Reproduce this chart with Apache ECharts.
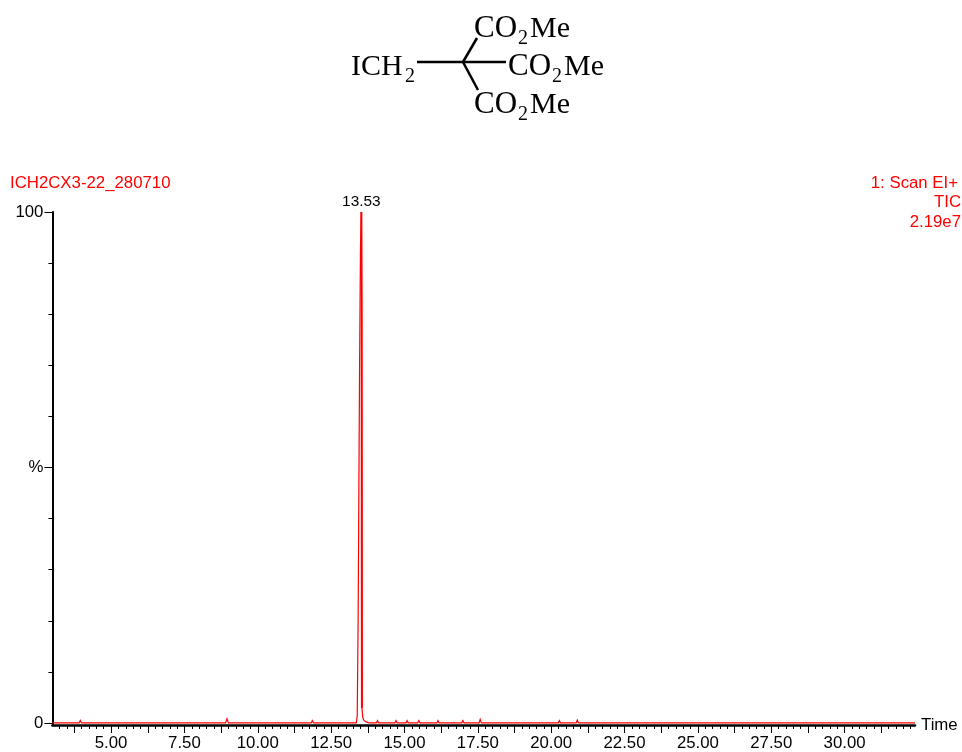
<!DOCTYPE html>
<html><head><meta charset="utf-8">
<script src="https://cdn.jsdelivr.net/npm/echarts@6/dist/echarts.min.js"></script>
<style>html,body{margin:0;padding:0;background:#fff}#c{width:962px;height:752px}</style></head>
<body><div id="c"></div>
<script>
const times = [3.0,3.91,3.95,3.99,8.9,8.95,9.0,11.82,11.86,11.9,13.36,13.38,13.39,13.42,13.44,13.47,13.5,13.53,13.54,13.55,13.58,13.62,13.7,13.8,14.04,14.08,14.12,14.67,14.71,14.75,15.05,15.09,15.13,15.45,15.49,15.53,16.1,16.14,16.18,16.95,16.99,17.03,17.54,17.58,17.62,20.24,20.28,20.32,20.85,20.89,20.93,32.4];
const intensities = [0,0,0.5,0,0,0.8,0,0,0.45,0,0,0.3,1.5,20,40,70,93,100,80,3,1,0.5,0.2,0,0,0.45,0,0,0.45,0,0,0.45,0,0,0.45,0,0,0.45,0,0,0.45,0,0,0.7,0,0,0.45,0,0,0.55,0,0];
const coreTimes = [13.53,13.54,13.55];
const coreIntensities = [100,80,3];
const peakTime = 13.53, peakValue = 100, peakLabel = '13.53';
const xMajorTicks = [3.75,5,6.25,7.5,8.75,10,11.25,12.5,13.75,15,16.25,17.5,18.75,20,21.25,22.5,23.75,25,26.25,27.5,28.75,30,31.25];
const xMinorTicks = [3.25,3.5,4,4.25,4.5,4.75,5.25,5.5,5.75,6,6.5,6.75,7,7.25,7.75,8,8.25,8.5,9,9.25,9.5,9.75,10.25,10.5,10.75,11,11.5,11.75,12,12.25,12.75,13,13.25,13.5,14,14.25,14.5,14.75,15.25,15.5,15.75,16,16.5,16.75,17,17.25,17.75,18,18.25,18.5,19,19.25,19.5,19.75,20.25,20.5,20.75,21,21.5,21.75,22,22.25,22.75,23,23.25,23.5,24,24.25,24.5,24.75,25.25,25.5,25.75,26,26.5,26.75,27,27.25,27.75,28,28.25,28.5,29,29.25,29.5,29.75,30.25,30.5,30.75,31,31.5,31.75,32,32.25];
const xLabels = [5,7.5,10,12.5,15,17.5,20,22.5,25,27.5,30];
const yMajorTicks = [0,50,100];
const yMinorTicks = [10,20,30,40,60,70,80,90];
const yLabelNames = {0:'0',50:'%',100:'100'};

const SANS = '"Liberation Sans", Arial, sans-serif', SERIF = '"Liberation Serif", "Times New Roman", serif';
const RED = '#ff0000', INK = '#000000';
function txt(x,y,text,size){const s=size||30;return {type:'text',x:x,y:y-Math.round(s*0.78),silent:true,style:{text:text,fill:INK,font:s+'px '+SERIF,align:'left',verticalAlign:'top'}};}
function bond(x1,y1,x2,y2){return {type:'line',silent:true,shape:{x1,y1,x2,y2},style:{stroke:INK,lineWidth:2.5}};}
function ester(x,y){return [txt(x,y,'CO',31),txt(x+44,y+8,'2',20),txt(x+56,y,'Me')];}
function head(x,y,text,align){return {type:'text',x:x,y:y,silent:true,style:{text:text,fill:RED,font:'16.8px '+SANS,align:align,verticalAlign:'middle'}};}

const chart = echarts.init(document.getElementById('c'),null,{renderer:'canvas'});
chart.setOption({
  animation:false,
  grid:{left:52.4,right:47,top:212,bottom:27,containLabel:false},
  xAxis:[
    {type:'value',position:'bottom',min:3,max:32.4,name:'Time',nameLocation:'end',nameGap:6,
     nameTextStyle:{color:INK,fontFamily:SANS,fontSize:16.8},
     axisLine:{show:true,onZero:false,lineStyle:{color:INK,width:2.5}},
     axisTick:{show:true,length:8,lineStyle:{color:INK,width:1},customValues:xMajorTicks},
     axisLabel:{show:true,color:INK,fontFamily:SANS,fontSize:16.8,margin:10,customValues:xLabels,formatter:v=>v.toFixed(2),hideOverlap:false},
     splitLine:{show:false}},
    {type:'value',position:'bottom',min:3,max:32.4,
     axisLine:{show:false,onZero:false},
     axisTick:{show:true,length:4,lineStyle:{color:INK,width:1},customValues:xMinorTicks},
     axisLabel:{show:false},splitLine:{show:false}}
  ],
  yAxis:[
    {type:'value',position:'left',min:-0.4,max:100,
     axisLine:{show:true,onZero:false,lineStyle:{color:INK,width:2}},
     axisTick:{show:true,length:8,lineStyle:{color:INK,width:1},customValues:yMajorTicks},
     axisLabel:{show:true,color:INK,fontFamily:SANS,fontSize:16.8,margin:9,customValues:yMajorTicks,formatter:v=>yLabelNames[v]},
     splitLine:{show:false}},
    {type:'value',position:'left',min:-0.4,max:100,
     axisLine:{show:false,onZero:false},
     axisTick:{show:true,length:4,lineStyle:{color:INK,width:1},customValues:yMinorTicks},
     axisLabel:{show:false},splitLine:{show:false}}
  ],
  series:[{
    type:'line',xAxisIndex:0,yAxisIndex:0,showSymbol:false,symbol:'none',clip:false,smooth:false,sampling:false,
    lineStyle:{color:RED,width:1.2,join:'miter'},
    data:times.map((t,i)=>[t,intensities[i]]),
    markPoint:{symbol:'circle',symbolSize:0,silent:true,
      data:[{coord:[peakTime,peakValue],value:peakLabel}],
      label:{show:true,position:'top',distance:3,color:INK,fontFamily:SANS,fontSize:15.4,formatter:peakLabel}}
  },{
    type:'line',xAxisIndex:0,yAxisIndex:0,showSymbol:false,symbol:'none',clip:false,smooth:false,
    lineStyle:{color:RED,width:2,join:'miter'},
    data:coreTimes.map((t,i)=>[t,coreIntensities[i]])
  }],
  graphic:{elements:[
    bond(417,62,506,62),bond(463,62,477,38),bond(463,62,478,90),
    txt(351,75,'ICH'),txt(405,83,'2',20),
    ...ester(474,37),...ester(508,75),...ester(474,113),
    head(10,183,'ICH2CX3-22_280710','left'),
    head(958,183,'1: Scan EI+','right'),
    head(961,202,'TIC','right'),
    head(961,222,'2.19e7','right')
  ]}
});
</script></body></html>
